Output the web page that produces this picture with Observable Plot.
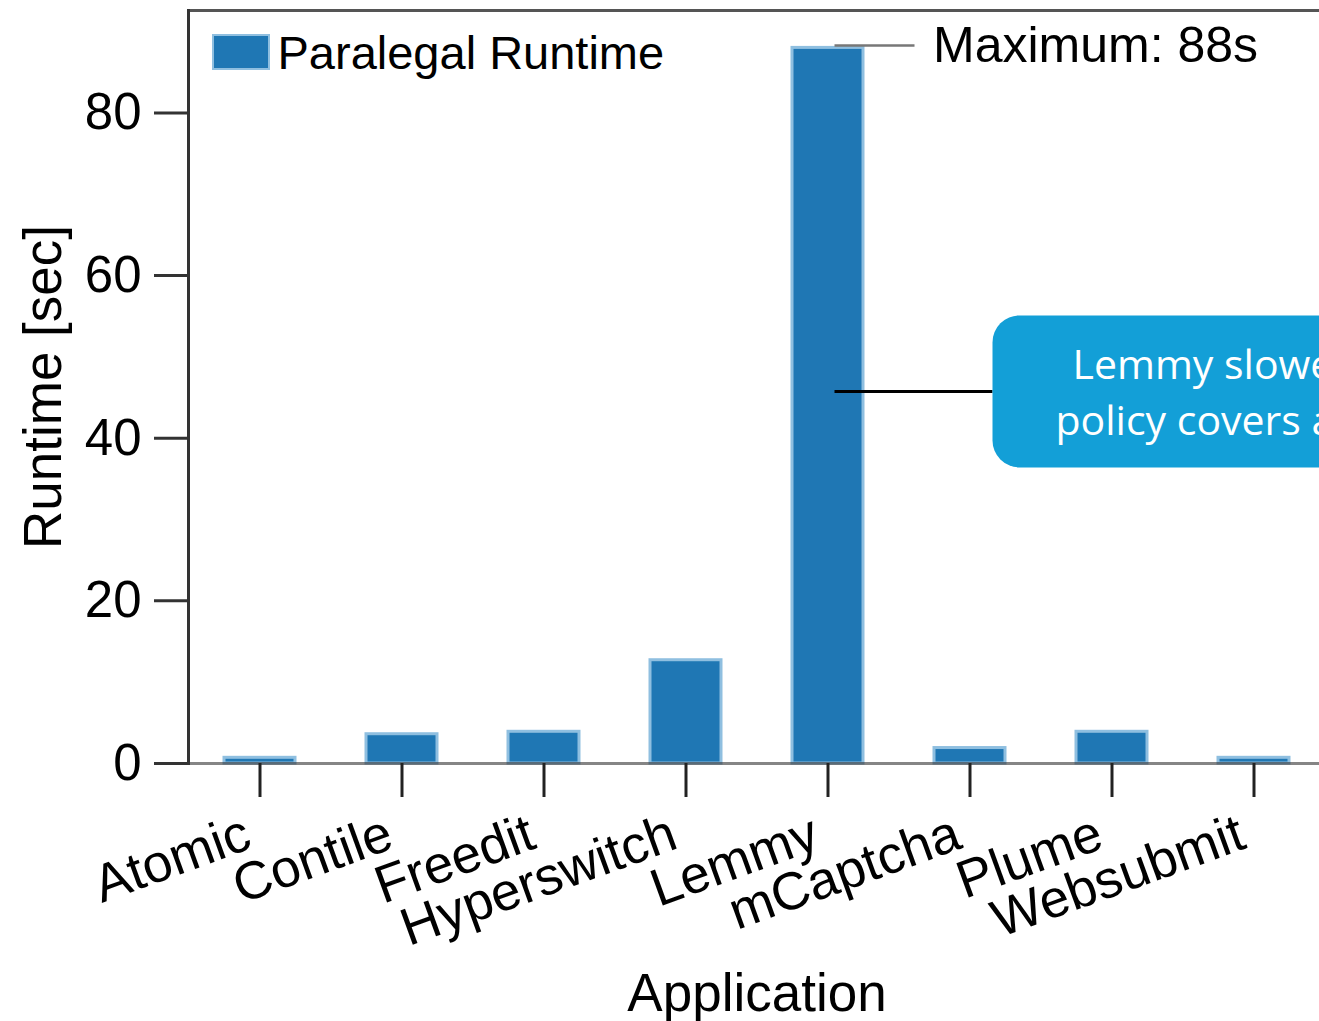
<!DOCTYPE html>
<html>
<head>
<meta charset="utf-8">
<script src="https://cdn.jsdelivr.net/npm/d3@7"></script>
<script src="https://cdn.jsdelivr.net/npm/@observablehq/plot@0.6"></script>
<style>
  html, body { margin: 0; padding: 0; background: #fff; overflow: hidden; width: 1319px; height: 1021px; }
  #chart { position: relative; }
</style>
</head>
<body>
<div id="chart"></div>
<script>
// ---- data ----
const apps = ["Atomic", "Contile", "Freedit", "Hyperswitch", "Lemmy", "mCaptcha", "Plume", "Websubmit"];
const runtimes = [0.7, 3.6, 3.9, 12.7, 88, 1.9, 3.9, 0.7];
const yTicks = [0, 20, 40, 60, 80];
const yMax = 92.6;
const seriesName = "Paralegal Runtime";
const xTitle = "Application";
const yTitle = "Runtime [sec]";
const maxLabel = "Maximum: 88s";
const maxValue = 88;
const calloutValue = 45.7;
const calloutLines = ["Lemmy slower because its", "policy covers all endpoints"];

const data = apps.map((app, i) => ({app, runtime: runtimes[i]}));

const FONT = "'Liberation Sans', Arial, Helvetica, sans-serif";
const BAR = "#1f77b4";
const BAR_EDGE = "#8fbfe0";

const chart = Plot.plot({
  width: 1319,
  height: 1021,
  marginLeft: 188,
  marginRight: 0,
  marginTop: 10,
  marginBottom: 258,
  style: {fontFamily: FONT, fontSize: "50px", background: "white", color: "black", overflow: "visible"},
  x: {domain: apps, range: [188, 1324], paddingInner: 0.5, paddingOuter: 0.25, axis: null},
  y: {domain: [0, yMax], axis: null},
  marks: [
    Plot.barY(data, {x: "app", y: "runtime", fill: BAR, stroke: BAR_EDGE, strokeWidth: 3}),
    Plot.frame({anchor: "top", stroke: "#555", strokeWidth: 3}),
    Plot.frame({anchor: "left", stroke: "#333", strokeWidth: 3}),
    Plot.ruleY([0], {stroke: "#333", strokeOpacity: 0.6, strokeWidth: 3}),
    Plot.axisY(yTicks, {tickSize: 34, tickPadding: 13, strokeWidth: 3, stroke: "#333", fontSize: 51, label: null, fill: "black"}),
    Plot.axisX({tickSize: 34, strokeWidth: 3, stroke: "#222", tickFormat: () => "", label: null}),
    Plot.text(apps, {x: d => d, frameAnchor: "bottom", dy: 84, dx: -6, rotate: -20, textAnchor: "end", lineAnchor: "bottom", fontSize: 53, fill: "black"}),
    Plot.text([xTitle], {frameAnchor: "bottom", dy: 247, dx: 3, textAnchor: "middle", lineAnchor: "bottom", fontSize: 53, fill: "black"}),
    Plot.text([yTitle], {frameAnchor: "left", dx: -128, rotate: -90, textAnchor: "middle", lineAnchor: "bottom", fontSize: 53, fill: "black"}),
    Plot.text([seriesName], {frameAnchor: "top-left", dx: 89, dy: 58, textAnchor: "start", lineAnchor: "bottom", fontSize: 47, fill: "black"}),
    Plot.text([maxLabel], {x: () => "Lemmy", y: () => maxValue, dx: 105, dy: 14, textAnchor: "start", lineAnchor: "bottom", fontSize: 50, fill: "black"})
  ]
});

document.getElementById("chart").appendChild(chart);

// ---- annotations (legend swatch, leader lines, callout) positioned from the scales ----
const xs = chart.scale("x"), ys = chart.scale("y");
const cx = xs.apply("Lemmy") + xs.bandwidth / 2;
const svg = d3.select(chart);
const g = svg.append("g").attr("text-anchor", "start");

// legend swatch
g.append("rect").attr("x", 213).attr("y", 35).attr("width", 56).attr("height", 34)
  .attr("fill", BAR).attr("stroke", BAR_EDGE).attr("stroke-width", 2);

// maximum leader
const yMaxPx = ys.apply(maxValue) - 2;
g.append("line").attr("x1", cx + 7).attr("x2", cx + 87).attr("y1", yMaxPx).attr("y2", yMaxPx)
  .attr("stroke", "#777").attr("stroke-width", 2.5);

// callout
const yc = ys.apply(calloutValue);
const boxX = cx + 165;
g.append("line").attr("x1", cx + 7).attr("x2", boxX).attr("y1", yc).attr("y2", yc)
  .attr("stroke", "black").attr("stroke-width", 3);
g.append("rect").attr("x", boxX).attr("y", yc - 76).attr("width", 420).attr("height", 152)
  .attr("rx", 27).attr("ry", 27).attr("fill", "#139fd7");
g.append("text").attr("x", boxX + 80).attr("y", yc - 12).attr("text-anchor", "start")
  .attr("fill", "white").attr("font-family", "'Open Sans', 'Noto Sans', sans-serif").attr("font-size", 41)
  .text(calloutLines[0]);
g.append("text").attr("x", boxX + 63).attr("y", yc + 44).attr("text-anchor", "start")
  .attr("fill", "white").attr("font-family", "'Open Sans', 'Noto Sans', sans-serif").attr("font-size", 41)
  .text(calloutLines[1]);
</script>
</body>
</html>
